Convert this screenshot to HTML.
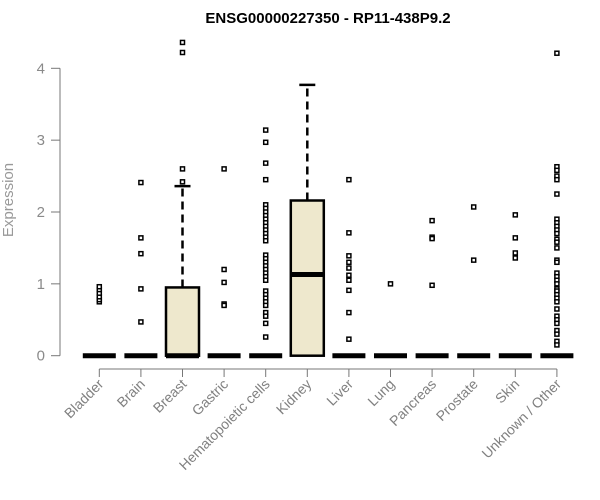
<!DOCTYPE html>
<html><head><meta charset="utf-8"><style>body{margin:0;background:#fff}svg{display:block;font-family:"Liberation Sans",sans-serif}</style></head>
<body>
<svg id="chart" width="600" height="500" viewBox="0 0 600 500">
<text x="328" y="23" text-anchor="middle" font-weight="bold" font-size="15">ENSG00000227350 - RP11-438P9.2</text>
<text transform="translate(13,200) rotate(-90)" text-anchor="middle" font-size="15" fill="#999">Expression</text>
<g id="axes"></g><g id="marks"></g>
</svg>
<script>
const categories=["Bladder","Brain","Breast","Gastric","Hematopoietic cells","Kidney","Liver","Lung","Pancreas","Prostate","Skin","Unknown / Other"];
const q1=[0,0,0,0,0,0,0,0,0,0,0,0];
const medians=[0,0,0,0,0,1.13,0,0,0,0,0,0];
const q3=[0,0,0.95,0,0,2.16,0,0,0,0,0,0];
const whiskerHigh=[0,0,2.36,0,0,3.77,0,0,0,0,0,0];
const outliers=[
[0.75,0.78,0.82,0.87,0.92,0.96],
[2.41,1.64,1.42,0.93,0.47],
[2.42,2.6,4.22,4.36],
[2.6,1.2,1.02,0.72,0.7],
[3.14,2.97,2.68,2.45,2.1,2.05,2.0,1.95,1.9,1.85,1.8,1.75,1.7,1.65,1.6,1.4,1.35,1.3,1.25,1.2,1.15,1.1,1.05,0.9,0.85,0.8,0.75,0.7,0.6,0.55,0.45,0.26],
[],
[2.45,1.71,1.39,1.3,1.22,1.12,1.05,0.91,0.6,0.23],
[1.0],
[1.88,1.65,1.63,0.98],
[2.07,1.33],
[1.96,1.64,1.43,1.36],
[4.21,2.63,2.58,2.5,2.45,2.25,1.9,1.85,1.8,1.75,1.7,1.62,1.58,1.5,1.33,1.3,1.15,1.1,1.05,1.0,0.93,0.9,0.85,0.8,0.75,0.65,0.55,0.5,0.45,0.35,0.3,0.2,0.15]
];
const yTicks=[0,1,2,3,4];
const NS="http://www.w3.org/2000/svg";
const X=i=>99.3+i*41.6;
const Y=v=>355.7-v*71.85;
function mk(tag,attrs,parent){const e=document.createElementNS(NS,tag);for(const k in attrs)e.setAttribute(k,attrs[k]);parent.appendChild(e);return e;}
const ax=document.getElementById('axes'),mg=document.getElementById('marks');
let yl=mk('line',{x1:60,x2:60,y1:Y(0),y2:Y(4),stroke:'#777'},ax);

yTicks.forEach(t=>{
 let l=mk('line',{x1:51,x2:60,y1:Y(t),y2:Y(t),stroke:'#777'},ax);
 
 let tx=mk('text',{x:45,y:Y(t)+5,'text-anchor':'end','font-size':15,fill:'#8a8a8a'},ax);tx.textContent=t;
 
});
let xl=mk('line',{x1:X(0),x2:X(categories.length-1),y1:369,y2:369,stroke:'#777'},ax);

categories.forEach((c,i)=>{
 let l=mk('line',{x1:X(i),x2:X(i),y1:369,y2:377,stroke:'#777'},ax);
 
 let tx=mk('text',{transform:`translate(${X(i)+5},${385}) rotate(-45)`,'text-anchor':'end','font-size':14,fill:'#808080'},ax);tx.textContent=c;
 
 const hw=16.5;
 if(q3[i]>q1[i]){
  let w=mk('line',{x1:X(i),x2:X(i),y1:Y(q3[i]),y2:Y(whiskerHigh[i]),stroke:'#000','stroke-width':2.5,'stroke-dasharray':'8,5'},mg);
  
  let cap=mk('line',{x1:X(i)-8,x2:X(i)+8,y1:Y(whiskerHigh[i]),y2:Y(whiskerHigh[i]),stroke:'#000','stroke-width':2.5},mg);
  
  let r=mk('rect',{x:X(i)-hw,y:Y(q3[i]),width:hw*2,height:Y(q1[i])-Y(q3[i]),fill:'#EEE8CD',stroke:'#000','stroke-width':2.5},mg);
  
 }
 let m=mk('line',{x1:X(i)-hw,x2:X(i)+hw,y1:Y(medians[i]),y2:Y(medians[i]),stroke:'#000','stroke-width':5},mg);
 
 outliers[i].forEach(v=>{
  let p=mk('rect',{x:X(i)-2,y:Y(v)-2,width:4,height:4,fill:'#fff',stroke:'#000','stroke-width':1.5},mg);
  
 });
});
</script>
</body></html>
